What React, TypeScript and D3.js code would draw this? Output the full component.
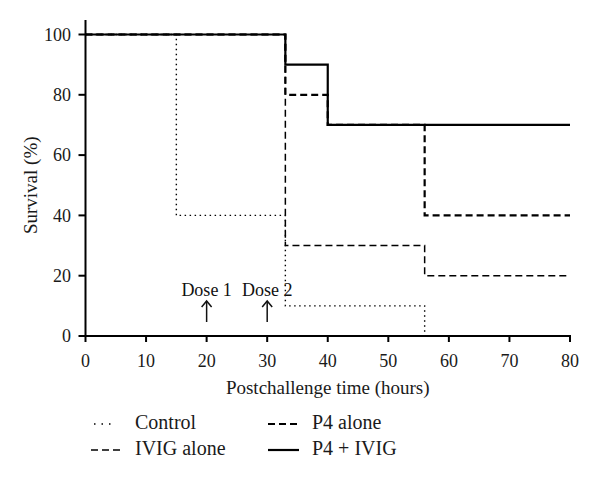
import React from 'react';
import * as d3 from 'd3';

// survival data (step changes)
const controlTime = [0, 15, 33, 56, 80];
const controlSurv = [100, 40, 10, 0, 0];
const ivigTime = [0, 33, 56, 80];
const ivigSurv = [100, 30, 20, 20];
const p4Time = [0, 33, 40, 56, 80];
const p4Surv = [100, 80, 70, 40, 40];
const comboTime = [0, 33, 40, 80];
const comboSurv = [100, 90, 70, 70];

const xTicks = [0, 10, 20, 30, 40, 50, 60, 70, 80];
const yTicks = [0, 20, 40, 60, 80, 100];
const doses = [
  { t: 20, label: 'Dose 1' },
  { t: 30, label: 'Dose 2' },
];

const FONT = '"Liberation Serif", "Times New Roman", serif';

const series = [
  { name: 'Control', time: controlTime, surv: controlSurv, dash: '1.5,3.5', width: 1.4 },
  { name: 'IVIG alone', time: ivigTime, surv: ivigSurv, dash: '7,4', width: 1.5 },
  { name: 'P4 alone', time: p4Time, surv: p4Surv, dash: '7,4', width: 2.2 },
  { name: 'P4 + IVIG', time: comboTime, surv: comboSurv, dash: null, width: 2.2 },
];

const legendPos = [
  { x: 91, y: 424, lx: 135, sx0: 94, sx1: 114, dash: '1.5,6' },
  { x: 268, y: 424, lx: 312 },
  { x: 91, y: 450, lx: 135 },
  { x: 268, y: 450, lx: 312 },
];
// legend order in picture: Control, P4 alone / IVIG alone, P4 + IVIG
const legendOrder = ['Control', 'P4 alone', 'IVIG alone', 'P4 + IVIG'];

export default function App() {
  const x = d3.scaleLinear().domain([0, 80]).range([85.5, 570]);
  const y = d3.scaleLinear().domain([0, 100]).range([336, 34.5]);

  const line = d3
    .line<[number, number]>()
    .x(d => x(d[0]))
    .y(d => y(d[1]))
    .curve(d3.curveStepAfter);

  return (
    <div style={{ position: 'absolute', left: 0, top: 0 }}>
      <svg width={600} height={480} style={{ display: 'block', background: '#fff' }} fontFamily={FONT}>
        {/* series */}
        {series.map(s => (
          <path
            key={s.name}
            d={line(s.time.map((t, i) => [t, s.surv[i]] as [number, number])) || ''}
            fill="none"
            stroke="#000"
            strokeWidth={s.width}
            strokeDasharray={s.dash || undefined}
          />
        ))}

        {/* y axis */}
        <line x1={x(0)} x2={x(0)} y1={y(0)} y2={20} stroke="#000" strokeWidth={2} />
        {yTicks.map(t => (
          <g key={'y' + t}>
            <line x1={x(0) - 7} x2={x(0)} y1={y(t)} y2={y(t)} stroke="#000" strokeWidth={2} />
            <text x={71} y={y(t)} dy="0.35em" textAnchor="end" fontSize={18} fill="#1a1a1a">
              {t}
            </text>
          </g>
        ))}
        <text
          transform={`translate(37,${(y(0) + y(100)) / 2}) rotate(-90)`}
          textAnchor="middle"
          fontSize={19}
          fill="#1a1a1a"
        >
          Survival (%)
        </text>

        {/* x axis */}
        <line x1={x(0) - 1} x2={x(80) + 1} y1={y(0)} y2={y(0)} stroke="#000" strokeWidth={2} />
        {xTicks.map(t => (
          <g key={'x' + t}>
            <line x1={x(t)} x2={x(t)} y1={y(0)} y2={y(0) + 6} stroke="#000" strokeWidth={2} />
            <text x={x(t)} y={367} textAnchor="middle" fontSize={18} fill="#1a1a1a">
              {t}
            </text>
          </g>
        ))}
        <text x={(x(0) + x(80)) / 2} y={394} textAnchor="middle" fontSize={19} fill="#1a1a1a">
          Postchallenge time (hours)
        </text>

        {/* dose markers */}
        {doses.map(d => (
          <g key={d.label}>
            <text x={x(d.t)} y={296} textAnchor="middle" fontSize={18} fill="#111">
              {d.label}
            </text>
            <line x1={x(d.t)} x2={x(d.t)} y1={301} y2={322} stroke="#111" strokeWidth={1.5} />
            <path
              d={`M${x(d.t) - 5},${307} L${x(d.t)},${301} L${x(d.t) + 5},${307}`}
              fill="none"
              stroke="#111"
              strokeWidth={1.5}
            />
          </g>
        ))}

        {/* legend */}
        {legendOrder.map((name, i) => {
          const s = series.find(v => v.name === name)!;
          const p = legendPos[i];
          return (
            <g key={'lg' + name}>
              <line
                x1={p.sx0 ?? p.x}
                x2={p.sx1 ?? p.x + 31}
                y1={p.y}
                y2={p.y}
                stroke="#000"
                strokeWidth={s.width}
                strokeDasharray={p.dash || s.dash || undefined}
              />
              <text x={p.lx} y={p.y + 5} fontSize={20} fill="#1a1a1a">
                {name}
              </text>
            </g>
          );
        })}
      </svg>
    </div>
  );
}
